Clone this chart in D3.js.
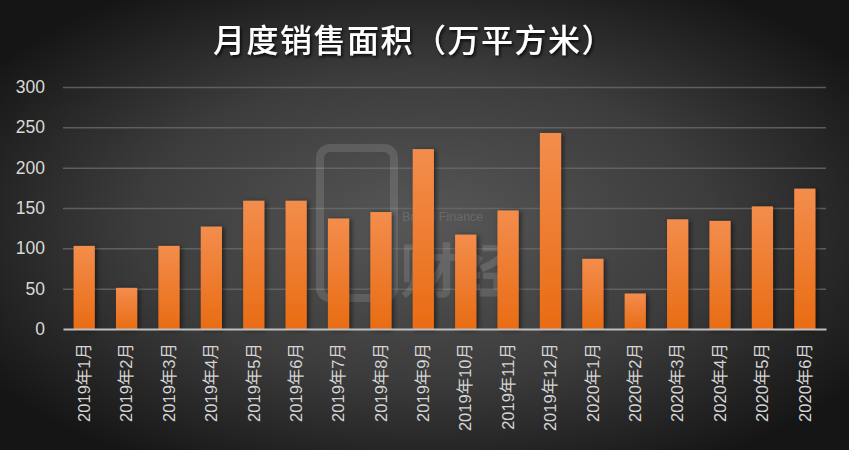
<!DOCTYPE html>
<html><head><meta charset="utf-8">
<script src="https://cdn.jsdelivr.net/npm/d3@7"></script>
<style>html,body{margin:0;padding:0;background:#2a2a2a;}svg{display:block;}</style>
</head><body>
<script>
const title = "月度销售面积（万平方米）";
const categories = ["2019年1月","2019年2月","2019年3月","2019年4月","2019年5月","2019年6月","2019年7月","2019年8月","2019年9月","2019年10月","2019年11月","2019年12月","2020年1月","2020年2月","2020年3月","2020年4月","2020年5月","2020年6月"];
const values = [103, 51, 103, 127, 159, 159, 137, 145, 223, 117, 147, 243, 87, 44, 136, 134, 152, 174];
const yTicks = [0, 50, 100, 150, 200, 250, 300];

const W = 849, H = 450;
const m = {left: 63, right: 23, top: 87, bottom: 121};
const svg = d3.select("body").append("svg").attr("width", W).attr("height", H);
const defs = svg.append("defs");

const bg = defs.append("radialGradient").attr("id","bg").attr("cx","50%").attr("cy","50%").attr("r","62%")
  .attr("gradientUnits","objectBoundingBox");
bg.append("stop").attr("offset","0%").attr("stop-color","#575757");
bg.append("stop").attr("offset","55%").attr("stop-color","#3c3c3c");
bg.append("stop").attr("offset","100%").attr("stop-color","#151515");
svg.append("rect").attr("width",W).attr("height",H).attr("fill","url(#bg)");

const bar = defs.append("linearGradient").attr("id","bar").attr("x1",0).attr("y1",0).attr("x2",0).attr("y2",1);
bar.append("stop").attr("offset","0%").attr("stop-color","#f38d4c");
bar.append("stop").attr("offset","100%").attr("stop-color","#e96c14");

const sh = defs.append("filter").attr("id","sh").attr("x","-30%").attr("y","-10%").attr("width","160%").attr("height","130%");
sh.append("feDropShadow").attr("dx",2).attr("dy",1).attr("stdDeviation",2.5).attr("flood-color","#000").attr("flood-opacity",0.55);
const tsh = defs.append("filter").attr("id","tsh").attr("x","-10%").attr("y","-30%").attr("width","120%").attr("height","160%");
tsh.append("feDropShadow").attr("dx",1.5).attr("dy",2).attr("stdDeviation",1.5).attr("flood-color","#000").attr("flood-opacity",0.8);

const x = d3.scaleBand().domain(categories).range([m.left, W - m.right]).paddingInner(0.5).paddingOuter(0.25);
const y = d3.scaleLinear().domain([0, 300]).range([H - m.bottom, m.top]);

// title
svg.append("text").attr("x", 414).attr("y", 52).attr("text-anchor","middle")
  .attr("font-family","'Noto Sans CJK SC', sans-serif").attr("font-size", 32).attr("font-weight", 500)
  .attr("letter-spacing", 1.5)
  .attr("fill","#ffffff").attr("filter","url(#tsh)").text(title);

// grid
const gy = svg.append("g").attr("transform", `translate(${m.left},0)`)
  .call(d3.axisLeft(y).tickValues(yTicks).tickSize(-(W - m.left - m.right)).tickPadding(18));
gy.select(".domain").remove();
gy.selectAll(".tick line").attr("stroke","#6a6a6a").attr("stroke-width",1.5).attr("opacity",0.8);
gy.selectAll(".tick").filter(d => d === 0).select("line").remove();
gy.selectAll(".tick text").attr("fill","#d9d9d9").attr("font-size",17.5)
  .attr("font-family","'Liberation Sans', Arial, sans-serif");

// watermark
const wm = svg.append("g").attr("opacity",0.12);
wm.append("rect").attr("x",320).attr("y",148).attr("width",74).attr("height",150).attr("rx",10)
  .attr("fill","none").attr("stroke","#ffffff").attr("stroke-width",8);
wm.append("text").attr("x",402).attr("y",221).attr("fill","#ffffff").attr("font-size",12.5)
  .attr("font-family","'Liberation Sans', Arial, sans-serif").text("Bread Finance");
wm.append("text").attr("x",400).attr("y",292).attr("fill","#ffffff").attr("font-size",58).attr("font-weight","bold")
  .attr("font-family","'Noto Sans CJK SC', sans-serif").text("财经");

// bars
svg.append("g").selectAll("rect").data(values).join("rect")
  .attr("x", (d,i) => x(categories[i]))
  .attr("y", d => y(d))
  .attr("width", x.bandwidth())
  .attr("height", d => y(0) - y(d))
  .attr("fill","url(#bar)")
  .attr("filter","url(#sh)");

// x axis
const gx = svg.append("g").attr("transform", `translate(0,${y(0)})`)
  .call(d3.axisBottom(x).tickSize(0).tickPadding(0));
gx.select(".domain").attr("stroke","#bfbfbf").attr("stroke-width",2);
gx.selectAll(".tick text")
  .attr("transform","rotate(-90)")
  .attr("text-anchor","end")
  .attr("dx", -14).attr("dy", "0.35em")
  .attr("fill","#d4d4d4").attr("font-size",16.5)
  .attr("font-family","'Liberation Sans', 'Noto Sans CJK SC', sans-serif");
</script>
</body></html>
